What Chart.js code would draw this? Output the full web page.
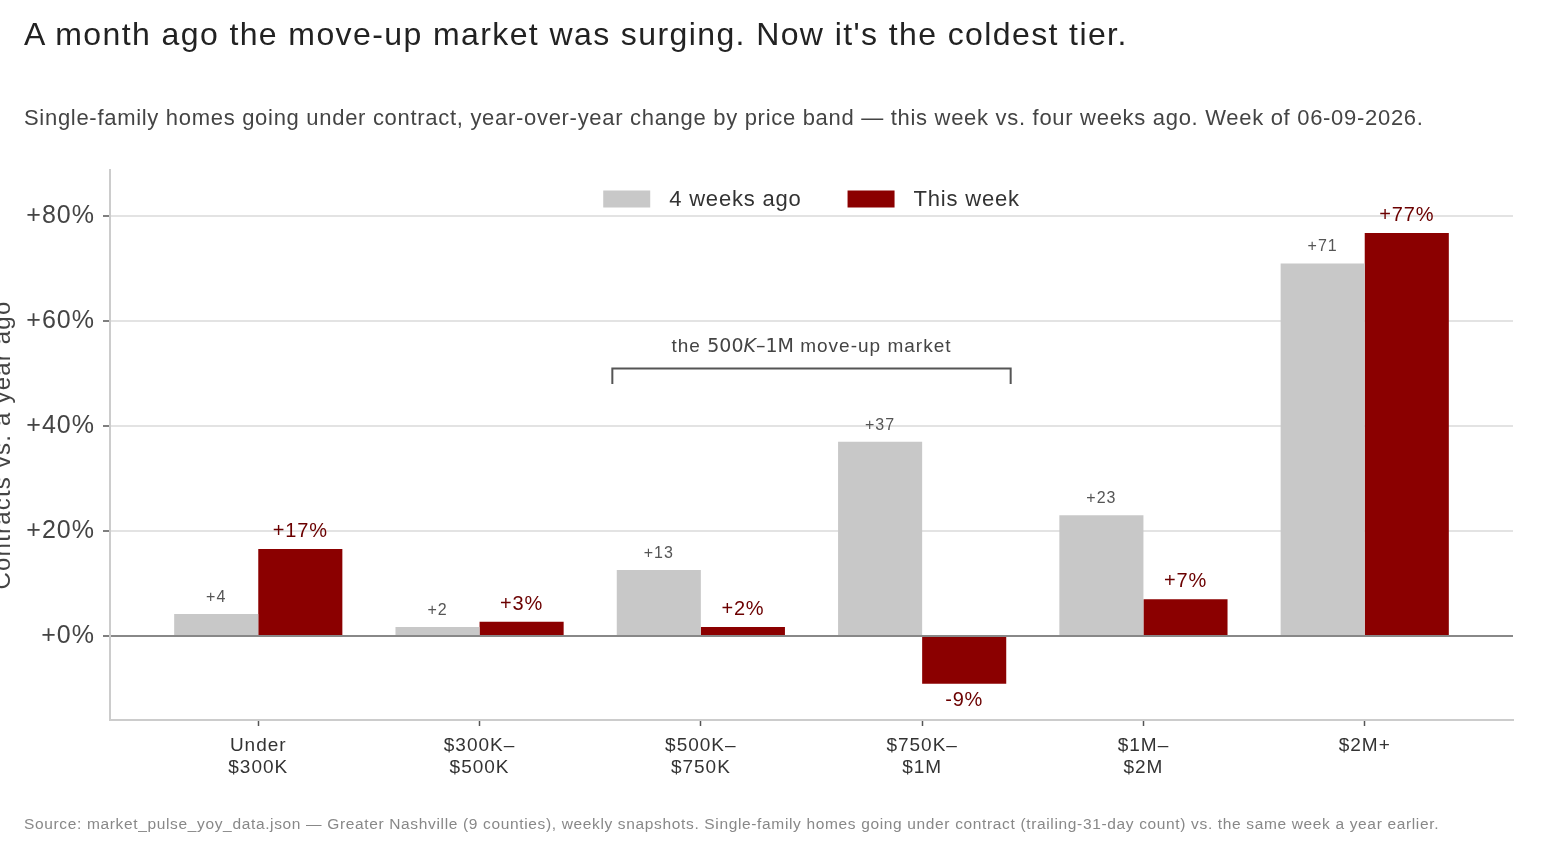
<!DOCTYPE html>
<html>
<head>
<meta charset="utf-8">
<script src="https://cdn.jsdelivr.net/npm/chart.js@4.4.1/dist/chart.umd.min.js"></script>
<style>
  html, body { margin: 0; padding: 0; background: #ffffff; }
  body { width: 1568px; height: 848px; position: relative; overflow: hidden; font-family: "Liberation Sans", Arial, sans-serif; }
  #chart { position: absolute; left: 0; top: 0; }
  .txt { position: absolute; white-space: nowrap; line-height: 1; }
  #title { left: 24px; top: 18px; font-size: 32px; letter-spacing: 1.4px; color: #222; }
  #subtitle { left: 24px; top: 107px; font-size: 22px; letter-spacing: 0.7px; color: #444; }
  #footer { left: 24px; top: 816px; font-size: 15.5px; letter-spacing: 0.65px; color: #888; }
</style>
</head>
<body>
<canvas id="chart" width="1568" height="848"></canvas>
<div id="title" class="txt">A month ago the move-up market was surging. Now it's the coldest tier.</div>
<div id="subtitle" class="txt">Single-family homes going under contract, year-over-year change by price band — this week vs. four weeks ago. Week of 06-09-2026.</div>
<div id="footer" class="txt">Source: market_pulse_yoy_data.json — Greater Nashville (9 counties), weekly snapshots. Single-family homes going under contract (trailing-31-day count) vs. the same week a year earlier.</div>
<script>
// ---- data ----
const categories = ["Under\n$300K", "$300K–\n$500K", "$500K–\n$750K", "$750K–\n$1M", "$1M–\n$2M", "$2M+"];
const fourWeeksAgo = [4.2, 1.7, 12.6, 37.0, 23.0, 71.0];
const thisWeek = [16.6, 2.7, 1.7, -9.1, 7.0, 76.8];
const seriesNames = ["4 weeks ago", "This week"];
const yTickValues = [0, 20, 40, 60, 80];
const yAxisTitle = "Contracts vs. a year ago";
// annotation text pieces: [text, style] (the middle part is rendered like math text)
const bracketTextParts = [["the ", "sans"], ["500", "math"], ["K", "mathit"], ["–1M", "math"], [" move-up market", "sans"]];
const bracketRange = [1.6, 3.4];
const bracketLevel = [51, 48];

const GREY = "#c8c8c8";
const RED = "#8b0000";
const FONT = "'Liberation Sans', Arial, sans-serif";
const MATHFONT = "'DejaVu Sans', sans-serif";

const toPoints = arr => arr.map((v, i) => ({ x: i, y: v }));

const spacingPlugin = {
  id: "spacing",
  beforeDraw(chart) { chart.ctx.letterSpacing = "1px"; }
};

const labelPlugin = {
  id: "barLabels",
  afterDatasetsDraw(chart) {
    const ctx = chart.ctx;
    ctx.save();
    ctx.textAlign = "center";
    chart.data.datasets.forEach((ds, di) => {
      const meta = chart.getDatasetMeta(di);
      meta.data.forEach((bar, i) => {
        const v = ds.data[i].y;
        const r = Math.round(v);
        let txt = (r >= 0 ? "+" : "") + r;
        if (di === 1) {
          txt += "%";
          ctx.font = "20px " + FONT;
          ctx.letterSpacing = "0.8px";
          ctx.fillStyle = "#6b0000";
        } else {
          ctx.font = "16px " + FONT;
          ctx.letterSpacing = "1px";
          ctx.fillStyle = "#555";
        }
        if (v >= 0) {
          ctx.textBaseline = "alphabetic";
          ctx.fillText(txt, bar.x, bar.y - 12);
        } else {
          ctx.textBaseline = "top";
          ctx.fillText(txt, bar.x, bar.y + 7);
        }
      });
    });
    ctx.restore();
  }
};

const decorPlugin = {
  id: "decor",
  afterDraw(chart) {
    const ctx = chart.ctx;
    const xs = chart.scales.x, ys = chart.scales.y;
    const area = chart.chartArea;
    ctx.save();
    // y-axis title (partly off-canvas, as in the reference)
    ctx.save();
    ctx.translate(10, 445);
    ctx.rotate(-Math.PI / 2);
    ctx.font = "24px " + FONT;
    ctx.letterSpacing = "1.2px";
    ctx.fillStyle = "#444";
    ctx.textAlign = "center";
    ctx.textBaseline = "alphabetic";
    ctx.fillText(yAxisTitle, 0, 0);
    ctx.restore();

    // bracket annotation
    const x1 = xs.getPixelForValue(bracketRange[0]);
    const x2 = xs.getPixelForValue(bracketRange[1]);
    const yTop = ys.getPixelForValue(bracketLevel[0]);
    const yBot = ys.getPixelForValue(bracketLevel[1]);
    ctx.strokeStyle = "#555";
    ctx.lineWidth = 2;
    ctx.beginPath();
    ctx.moveTo(x1, yBot);
    ctx.lineTo(x1, yTop);
    ctx.lineTo(x2, yTop);
    ctx.lineTo(x2, yBot);
    ctx.stroke();
    const fontFor = s => s === "sans" ? "19px " + FONT : (s === "mathit" ? "oblique 19px " + MATHFONT : "19px " + MATHFONT);
    const lsFor = s => s === "sans" ? "1px" : "0px";
    let tw = 0;
    const pw = bracketTextParts.map(([t, s]) => { ctx.font = fontFor(s); ctx.letterSpacing = lsFor(s); const w = ctx.measureText(t).width; tw += w; return w; });
    let tx = (x1 + x2) / 2 - tw / 2;
    ctx.fillStyle = "#444";
    ctx.textAlign = "left";
    ctx.textBaseline = "alphabetic";
    bracketTextParts.forEach(([t, s], i) => {
      ctx.font = fontFor(s);
      ctx.letterSpacing = lsFor(s);
      ctx.fillText(t, tx, yTop - 16);
      tx += pw[i];
    });

    // legend
    ctx.font = "22px " + FONT;
    ctx.letterSpacing = "0.8px";
    const boxW = 47, boxH = 17, gapBT = 19, gapItems = 46;
    const widths = seriesNames.map(n => ctx.measureText(n).width);
    const total = widths.reduce((a, w) => a + boxW + gapBT + w, 0) + gapItems;
    let lx = (area.left + area.right) / 2 - total / 2;
    const ly = area.top + 29;
    chart.data.datasets.forEach((ds, i) => {
      ctx.fillStyle = ds.backgroundColor;
      ctx.fillRect(lx, ly - boxH / 2, boxW, boxH);
      lx += boxW + gapBT;
      ctx.fillStyle = "#333";
      ctx.textAlign = "left";
      ctx.textBaseline = "middle";
      ctx.fillText(seriesNames[i], lx, ly + 1);
      lx += widths[i] + gapItems;
    });
    ctx.restore();
  }
};

new Chart(document.getElementById("chart"), {
  type: "bar",
  data: {
    datasets: [
      { label: seriesNames[0], data: toPoints(fourWeeksAgo), backgroundColor: GREY, borderWidth: 0,
        categoryPercentage: 0.76, barPercentage: 1.0 },
      { label: seriesNames[1], data: toPoints(thisWeek), backgroundColor: RED, borderWidth: 0,
        categoryPercentage: 0.76, barPercentage: 1.0 }
    ]
  },
  options: {
    responsive: false,
    animation: false,
    devicePixelRatio: 1,
    layout: { padding: { left: 0, right: 55, top: 170, bottom: 0 } },
    plugins: { legend: { display: false }, tooltip: { enabled: false }, title: { display: false } },
    scales: {
      x: {
        type: "linear",
        offset: false,
        min: -0.67,
        max: 5.67,
        afterBuildTicks: axis => { axis.ticks = categories.map((c, i) => ({ value: i })); },
        afterFit: s => { s.height = 128; },
        ticks: {
          autoSkip: false,
          maxRotation: 0,
          padding: 8,
          color: "#333",
          font: { family: FONT, size: 19 },
          callback: v => categories[v] !== undefined ? categories[v].split("\n") : ""
        },
        grid: { offset: false, drawOnChartArea: false, drawTicks: true, tickLength: 6, tickColor: "#555", tickWidth: 1.5 },
        border: { display: true, color: "#cccccc", width: 2 }
      },
      y: {
        min: -16,
        max: 88.8,
        afterBuildTicks: axis => { axis.ticks = yTickValues.map(v => ({ value: v })); },
        afterFit: s => { s.width = 110; },
        ticks: {
          padding: 8,
          color: "#444",
          font: { family: FONT, size: 25 },
          callback: v => (v >= 0 ? "+" : "") + v + "%"
        },
        grid: {
          drawTicks: true,
          tickLength: 7,
          tickColor: "#555",
          tickWidth: 1.5,
          color: c => (c.tick && c.tick.value === 0) ? "#888888" : "#e3e3e3",
          lineWidth: 2
        },
        border: { display: true, color: "#cccccc", width: 2 }
      }
    }
  },
  plugins: [spacingPlugin, labelPlugin, decorPlugin]
});
</script>
</body>
</html>
